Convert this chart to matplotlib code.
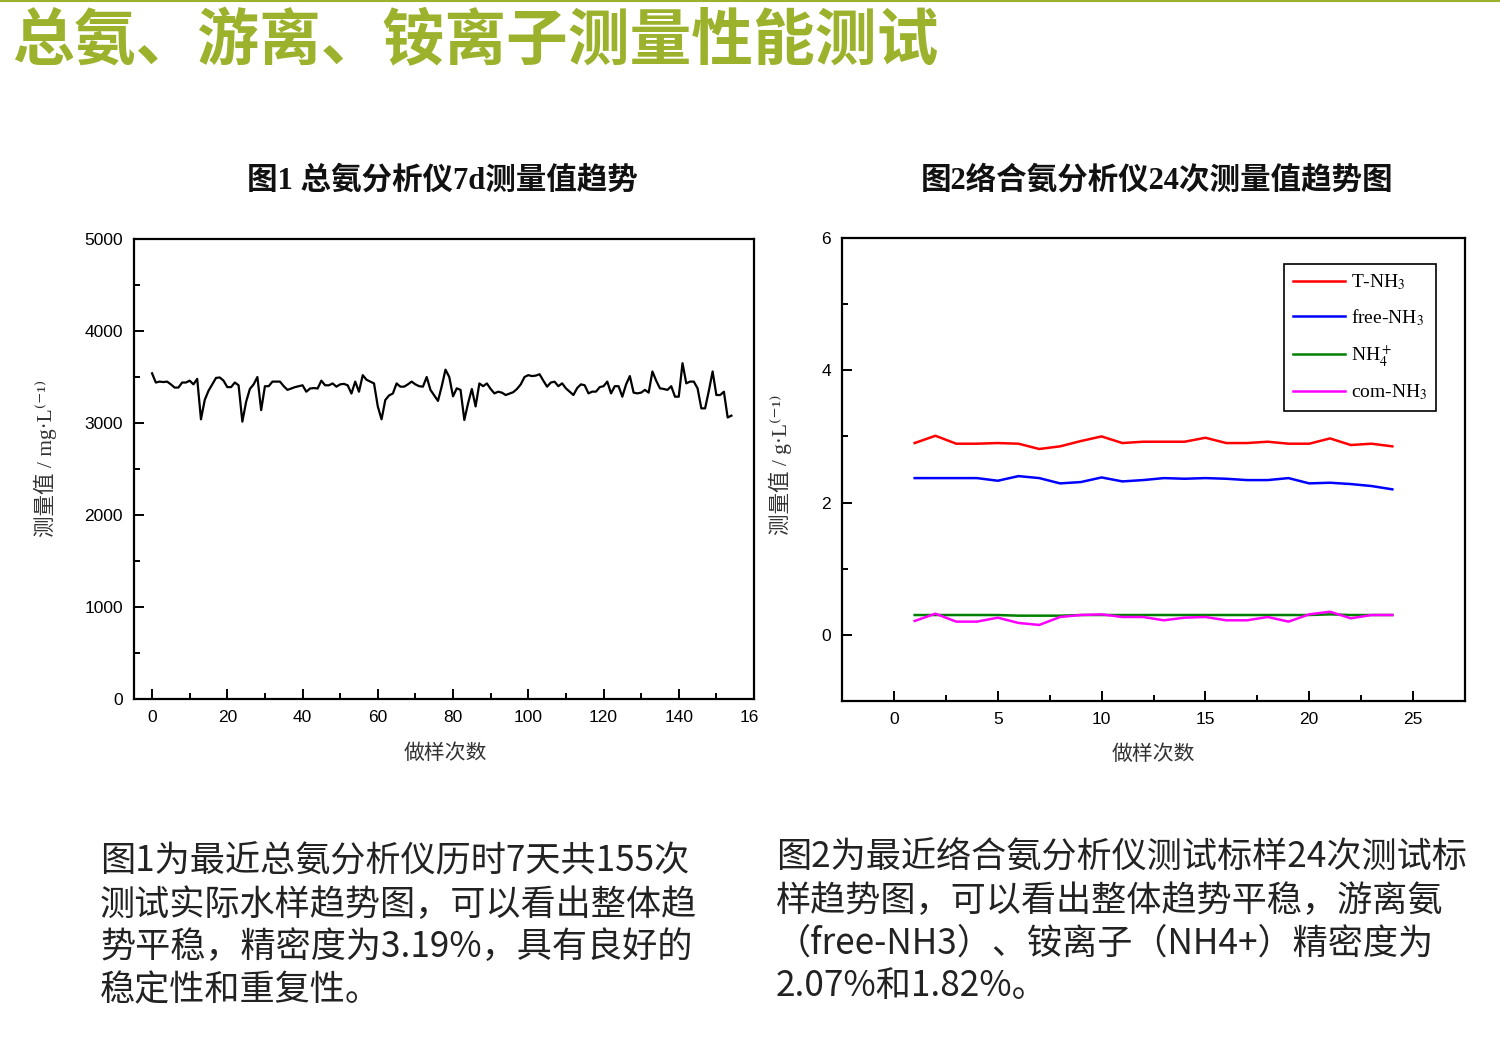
import numpy as np
import matplotlib
matplotlib.use('Agg')
import matplotlib.pyplot as plt
from matplotlib.ticker import MultipleLocator
from matplotlib.lines import Line2D
from matplotlib.transforms import Bbox, TransformedBbox

plt.rcParams['font.family'] = ['Noto Sans CJK SC', 'DejaVu Sans']
plt.rcParams['mathtext.fontset'] = 'stix'

# ---------------- data ----------------
# Fig.1: total ammonia analyser, 155 measurements over 7 days (mg/L)
total_nh3 = [
    3540, 3440, 3450, 3445, 3450, 3420, 3385, 3385, 3440, 3440,
    3460, 3420, 3480, 3040, 3250, 3350, 3420, 3490, 3495, 3460,
    3390, 3390, 3440, 3410, 3015, 3230, 3370, 3420, 3500, 3140,
    3400, 3400, 3450, 3450, 3450, 3400, 3360, 3375, 3390, 3400,
    3410, 3340, 3375, 3380, 3375, 3460, 3410, 3410, 3430, 3395,
    3420, 3425, 3410, 3320, 3450, 3340, 3520, 3470, 3450, 3430,
    3180, 3040, 3250, 3300, 3320, 3430, 3395, 3395, 3420, 3450,
    3420, 3400, 3395, 3500, 3360, 3300, 3240, 3400, 3580, 3500,
    3290, 3377, 3360, 3033, 3214, 3370, 3180, 3430, 3400, 3430,
    3370, 3322, 3340, 3330, 3304, 3320, 3335, 3370, 3420, 3500,
    3520, 3510, 3515, 3530, 3460, 3395, 3440, 3449, 3400, 3431,
    3377, 3340, 3304, 3380, 3420, 3410, 3322, 3341, 3341, 3390,
    3400, 3450, 3322, 3400, 3400, 3286, 3420, 3510, 3330, 3322,
    3330, 3360, 3330, 3560, 3460, 3377, 3370, 3360, 3400, 3286,
    3286, 3650, 3431, 3450, 3450, 3377, 3159, 3159, 3350, 3560,
    3304, 3304, 3340, 3060, 3080,
]
sample_index = list(range(0, len(total_nh3)))

# Fig.2: complex ammonia analyser, 24 measurements (g/L)
runs = list(range(1, 25))
t_nh3 = [2.90, 3.01, 2.89, 2.89, 2.90, 2.89, 2.81, 2.85, 2.93, 3.00, 2.90, 2.92,
         2.92, 2.92, 2.98, 2.90, 2.90, 2.92, 2.89, 2.89, 2.97, 2.87, 2.89, 2.85]
free_nh3 = [2.37, 2.37, 2.37, 2.37, 2.33, 2.40, 2.37, 2.29, 2.31, 2.38, 2.32, 2.34,
            2.37, 2.36, 2.37, 2.36, 2.34, 2.34, 2.37, 2.29, 2.30, 2.28, 2.25, 2.20]
nh4 = [0.30, 0.30, 0.30, 0.30, 0.30, 0.29, 0.29, 0.29, 0.30, 0.30, 0.30, 0.30,
       0.30, 0.30, 0.30, 0.30, 0.30, 0.30, 0.30, 0.30, 0.31, 0.30, 0.30, 0.30]
com_nh3 = [0.21, 0.32, 0.20, 0.20, 0.26, 0.18, 0.15, 0.27, 0.30, 0.31, 0.27, 0.27,
           0.22, 0.26, 0.27, 0.22, 0.22, 0.27, 0.20, 0.31, 0.35, 0.25, 0.30, 0.30]
series_labels = ['T-NH$_3$', 'free-NH$_3$', 'NH$_4^+$', 'com-NH$_3$']
series_colors = ['#ff0000', '#0000ff', '#008000', '#ff00ff']

x1_ticks = [0, 20, 40, 60, 80, 100, 120, 140, 160]
y1_ticks = [0, 1000, 2000, 3000, 4000, 5000]
x2_ticks = [0, 5, 10, 15, 20, 25]
y2_ticks = [0, 2, 4, 6]

page_title = '总氨、游离、铵离子测量性能测试'
chart1_title = '图1 总氨分析仪7d测量值趋势'
chart2_title = '图2络合氨分析仪24次测量值趋势图'
xlabel_text = '做样次数'
ylabel1_text = '测量值 / mg·L⁽⁻¹⁾'
ylabel2_text = '测量值 / g·L⁽⁻¹⁾'
left_para = ['图1为最近总氨分析仪历时7天共155次',
             '测试实际水样趋势图，可以看出整体趋',
             '势平稳，精密度为3.19%，具有良好的',
             '稳定性和重复性。']
right_para = ['图2为最近络合氨分析仪测试标样24次测试标',
              '样趋势图，可以看出整体趋势平稳，游离氨',
              '（free-NH3）、铵离子（NH4+）精密度为',
              '2.07%和1.82%。']

# ---------------- figure ----------------
W, H = 1500, 1058
fig = plt.figure(figsize=(W / 100, H / 100), dpi=100)
fig.patch.set_facecolor('white')

def fx(px):
    return px / W

def fy(py):
    return 1 - py / H

olive = '#9db22c'
fig.add_artist(Line2D([0, 1], [fy(1), fy(1)], color=olive, lw=1.5))
fig.text(fx(12), fy(42), page_title, fontsize=44.5, fontweight='bold',
         color=olive, ha='left', va='center')

title_family = ['Liberation Serif', 'Noto Sans CJK SC', 'DejaVu Sans']
fig.text(fx(442), fy(181), chart1_title, fontsize=22, fontweight='bold',
         family=title_family, ha='center', va='center', color='#111111')
fig.text(fx(1157), fy(181), chart2_title, fontsize=22, fontweight='bold',
         family=title_family, ha='center', va='center', color='#111111')

tick_family = ['Liberation Sans', 'DejaVu Sans']

def style_axes(ax):
    for s in ax.spines.values():
        s.set_linewidth(1.6)
        s.set_color('black')
    ax.tick_params(which='both', direction='in', top=False, right=False,
                   width=1.4, colors='black')
    ax.tick_params(which='major', length=7, pad=8, labelsize=12.5)
    ax.tick_params(which='minor', length=4)
    for lbl in ax.get_xticklabels() + ax.get_yticklabels():
        lbl.set_family(tick_family)

# Chart 1
ax1 = fig.add_axes([fx(134), fy(699), fx(754) - fx(134), fy(239) - fy(699)])
ax1.plot(sample_index, total_nh3, color='black', lw=1.6)
ax1.set_xlim(-4.8, 160)
ax1.set_ylim(0, 5000)
ax1.set_xticks(x1_ticks)
ax1.set_yticks(y1_ticks)
ax1.xaxis.set_minor_locator(MultipleLocator(10))
ax1.yaxis.set_minor_locator(MultipleLocator(500))
style_axes(ax1)
clip = TransformedBbox(Bbox([[0, 0], [fx(758), 1]]), fig.transFigure)
last = ax1.get_xticklabels()[-1]
last.set_clip_box(clip)
last.set_clip_on(True)

# Chart 2
ax2 = fig.add_axes([fx(842), fy(701), fx(1465) - fx(842), fy(238) - fy(701)])
for vals, lab, col in zip([t_nh3, free_nh3, nh4, com_nh3], series_labels, series_colors):
    ax2.plot(runs, vals, color=col, lw=1.8, label=lab)
ax2.set_xlim(-2.5, 27.5)
ax2.set_ylim(-1, 6)
ax2.set_xticks(x2_ticks)
ax2.set_yticks(y2_ticks)
ax2.xaxis.set_minor_locator(MultipleLocator(2.5))
ax2.yaxis.set_minor_locator(MultipleLocator(1))
style_axes(ax2)
leg = ax2.legend(loc='upper right', bbox_to_anchor=((1436 - 842) / 623, (701 - 264) / 463),
                 frameon=True, fancybox=False, edgecolor='black', framealpha=1,
                 prop={'family': ['Liberation Serif', 'DejaVu Serif'], 'size': 14},
                 handlelength=2.7, labelspacing=0.76, borderpad=0.45,
                 handletextpad=0.3, borderaxespad=0)
leg.get_frame().set_linewidth(1.2)

# axis labels
fig.text(fx(445), fy(753), xlabel_text, fontsize=15, ha='center', va='center', color='#333333')
fig.text(fx(1153), fy(754), xlabel_text, fontsize=15, ha='center', va='center', color='#333333')
lab_family = ['Liberation Serif', 'DejaVu Serif', 'Noto Sans CJK SC']
fig.text(fx(45), fy(458), ylabel1_text, fontsize=15.5, rotation=90, ha='center', va='center',
         color='#333333', family=lab_family)
fig.text(fx(780), fy(465), ylabel2_text, fontsize=15.5, rotation=90, ha='center', va='center',
         color='#333333', family=lab_family)

# paragraphs
for i, line in enumerate(left_para):
    fig.text(fx(100), fy(862 + 42.7 * i), line, fontsize=25.3, ha='left', va='center',
             color='#222222')
for i, line in enumerate(right_para):
    fig.text(fx(776), fy(858 + 42.7 * i), line, fontsize=25.3, ha='left', va='center',
             color='#222222')

fig.savefig('out.png', dpi=100, facecolor='white')
